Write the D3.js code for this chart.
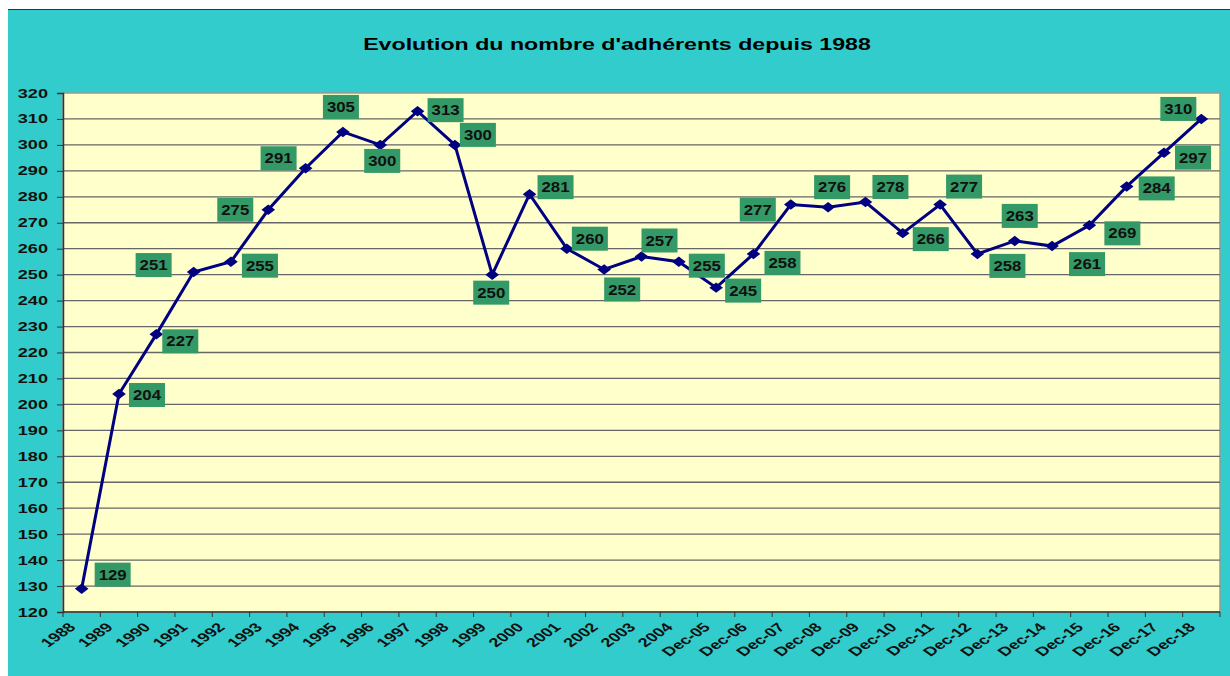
<!DOCTYPE html>
<html>
<head>
<meta charset="utf-8">
<script src="https://cdn.jsdelivr.net/npm/d3@7"></script>
<style>
  body { margin: 0; background: #ffffff; }
  text { font-family: Arial, "Liberation Sans", sans-serif; font-weight: bold; }
</style>
</head>
<body>
<div id="container"></div>
<script>
// data
var years = ["1988", "1989", "1990", "1991", "1992", "1993", "1994", "1995", "1996", "1997",
  "1998", "1999", "2000", "2001", "2002", "2003", "2004",
  "Dec-05", "Dec-06", "Dec-07", "Dec-08", "Dec-09", "Dec-10", "Dec-11", "Dec-12",
  "Dec-13", "Dec-14", "Dec-15", "Dec-16", "Dec-17", "Dec-18"];
var members = [129, 204, 227, 251, 255, 275, 291, 305, 300, 313,
  300, 250, 281, 260, 252, 257, 255,
  245, 258, 277, 276, 278, 266, 277, 258,
  263, 261, 269, 284, 297, 310];
var yTicks = d3.range(120, 321, 10);

// where each green label sits relative to its point (px)
var labelOffsets = [[31, -14], [28, 1], [24, 7], [-40, -7], [29, 4], [-33, 0], [-27, -10], [-2, -25],
  [2, 16], [28, -1], [23, -10], [-1, 18], [26, -7], [23, -10], [18, 20], [18, -16], [28, 4],
  [27, 3], [29, 9], [-33, 5], [4, -20], [25, -15], [28, 6], [24, -18], [30, 12],
  [5, -25], [35, 18], [33, 8], [30, 2], [29, 5], [-23, -10]];

var svgWidth = 1230;
var svgHeight = 676;

// the original picture is stretched sideways, text included
var stretch = 1.45;

var margin = { top: 93, right: 10, bottom: 64, left: 63 };
var width = svgWidth - margin.left - margin.right;
var height = svgHeight - margin.top - margin.bottom;

var svg = d3.select("#container")
  .append("svg")
  .attr("width", svgWidth)
  .attr("height", svgHeight);

// chart background
svg.append("rect")
  .attr("x", 8).attr("y", 9)
  .attr("width", svgWidth - 8).attr("height", svgHeight - 9)
  .attr("fill", "#33cccc");
svg.append("line")
  .attr("x1", 8).attr("x2", svgWidth)
  .attr("y1", 9.5).attr("y2", 9.5)
  .attr("stroke", "#333").attr("stroke-width", 1);

svg.append("text")
  .attr("transform", `translate(617, 50) scale(${stretch}, 1)`)
  .attr("text-anchor", "middle")
  .style("font-size", "16px")
  .attr("fill", "#000")
  .text("Evolution du nombre d'adhérents depuis 1988");

var chart = svg.append("g")
  .attr("transform", `translate(${margin.left}, ${margin.top})`);

var xScale = d3.scaleBand()
  .domain(years)
  .range([0, width]);

var yScale = d3.scaleLinear()
  .domain([120, 320])
  .range([height, 0]);

chart.append("rect")
  .attr("width", width).attr("height", height)
  .attr("fill", "#ffffcc")
  .attr("stroke", "#999").attr("stroke-width", 1.5);

// gridlines
chart.append("g")
  .selectAll("line")
  .data(yTicks.slice(1, -1))
  .enter()
  .append("line")
  .attr("x1", 0).attr("x2", width)
  .attr("y1", d => yScale(d)).attr("y2", d => yScale(d))
  .attr("stroke", "#666")
  .attr("stroke-width", 1.3);

var leftAxis = d3.axisLeft(yScale).tickValues(yTicks).tickSize(6);
var yAxisG = chart.append("g").call(leftAxis);
yAxisG.select(".domain").attr("stroke", "#333").attr("stroke-width", 1.5);
yAxisG.selectAll(".tick line").attr("stroke", "#333");
yAxisG.selectAll("text")
  .attr("x", 0)
  .attr("transform", `translate(-15, 0) scale(${stretch}, 1)`)
  .style("font-size", "12.5px")
  .attr("fill", "#111");

// category boundary ticks along the bottom
var boundaries = years.map(d => xScale(d)).concat([width]);
var xAxisG = chart.append("g").attr("transform", `translate(0, ${height})`);
xAxisG.append("line")
  .attr("x1", 0).attr("x2", width)
  .attr("stroke", "#333").attr("stroke-width", 1.5);
xAxisG.selectAll(".btick")
  .data(boundaries)
  .enter()
  .append("line")
  .attr("x1", d => d).attr("x2", d => d)
  .attr("y1", 0).attr("y2", 5)
  .attr("stroke", "#333");
xAxisG.selectAll(".xlabel")
  .data(years)
  .enter()
  .append("text")
  .attr("text-anchor", "end")
  .attr("transform", d => `translate(${xScale(d) + xScale.bandwidth() / 2 - 5}, 16) scale(${stretch}, 1) rotate(-45)`)
  .style("font-size", "12.5px")
  .attr("fill", "#111")
  .text(d => d);

// line
var line = d3.line()
  .x((d, i) => xScale(years[i]) + xScale.bandwidth() / 2)
  .y(d => yScale(d));

chart.append("path")
  .datum(members)
  .attr("fill", "none")
  .attr("stroke", "#000080")
  .attr("stroke-width", 3)
  .attr("d", line);

chart.selectAll(".pt")
  .data(members)
  .enter()
  .append("path")
  .attr("d", d3.symbol().type(d3.symbolDiamond2).size(70))
  .attr("transform", (d, i) => `translate(${xScale(years[i]) + xScale.bandwidth() / 2}, ${yScale(d)}) scale(1.3, 1)`)
  .attr("fill", "#000080");

// green value labels
var labels = chart.selectAll(".lbl")
  .data(members)
  .enter()
  .append("g")
  .attr("transform", (d, i) => {
    var cx = xScale(years[i]) + xScale.bandwidth() / 2 + labelOffsets[i][0];
    var cy = yScale(d) + labelOffsets[i][1];
    return `translate(${cx}, ${cy})`;
  });

labels.append("rect")
  .attr("x", -18).attr("y", -12)
  .attr("width", 36).attr("height", 24)
  .attr("fill", "#339966");

labels.append("text")
  .attr("text-anchor", "middle")
  .attr("dy", "0.36em")
  .attr("transform", "scale(1.2, 1)")
  .style("font-size", "14px")
  .attr("fill", "#111")
  .text(d => d);
</script>
</body>
</html>
